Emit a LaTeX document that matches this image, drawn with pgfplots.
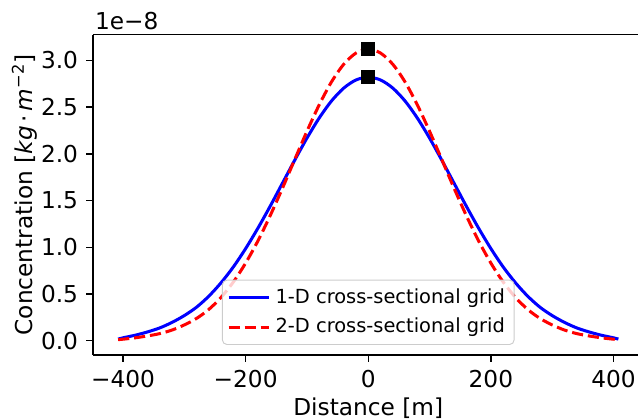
\documentclass[border=0pt]{standalone}
\usepackage{pgfplots}
\pgfplotsset{compat=1.18}
\usepackage{fontspec}
\setmainfont{DejaVu Sans}
\begin{document}
\begin{tikzpicture}
\begin{axis}[
  scale only axis,
  width=234.4pt, height=137.7pt,
  xmin=-449, xmax=440, ymin=-0.15, ymax=3.276,
  axis x line*=box, axis y line*=left,
  axis line style={-, line width=0.6pt, black},
  tick align=outside, tick pos=left,
  major tick length=2.9pt,
  tick style={line width=0.6pt, black},
  xtick={-400,-200,0,200,400},
  xticklabels={−400,−200,0,200,400},
  ytick={0,0.5,1,1.5,2,2.5,3},
  /pgf/number format/assume math mode=true,
  yticklabel style={/pgf/number format/.cd, fixed, fixed zerofill, precision=1},
  xlabel={Distance [m]},
  ylabel={Concentration [\textit{kg}\,·\,\textit{m}\textsuperscript{−2}]},
  every axis x label/.style={at={([yshift=-23pt]axis cs:0,-0.15)}, anchor=center},
  every axis y label/.style={at={([xshift=-29.5pt]rel axis cs:0,0.5)}, anchor=center, rotate=90},
  legend style={at={(axis cs:0,-0.045)}, anchor=south,
    font=\fontsize{8.35pt}{10pt}\selectfont,
    draw=black!20, rounded corners=2pt, fill=white, fill opacity=0.8, text opacity=1,
    inner xsep=2pt, inner ysep=1.5pt, row sep=1pt},
  legend cell align=left,
  legend image code/.code={\draw[#1] (0pt,0pt) -- (17.6pt,0pt);},
]
\addplot[blue, line width=1.3pt, smooth] coordinates {
(-408,0.018) (-400,0.032) (-380,0.060) (-360,0.095) (-340,0.138) (-320,0.197)
(-300,0.270) (-280,0.360) (-260,0.478) (-240,0.622) (-220,0.791) (-200,0.987)
(-180,1.205) (-160,1.440) (-140,1.686) (-120,1.932) (-100,2.169) (-80,2.384)
(-60,2.566) (-40,2.704) (-20,2.791) (0,2.820)
(20,2.791) (40,2.704) (60,2.566) (80,2.384) (100,2.169) (120,1.932)
(140,1.686) (160,1.440) (180,1.205) (200,0.987) (220,0.791) (240,0.622)
(260,0.478) (280,0.360) (300,0.270) (320,0.197) (340,0.138) (360,0.095)
(380,0.060) (400,0.032) (408,0.018)
};
\addlegendentry{1-D cross-sectional grid}
\addplot[red, line width=1.3pt, dash pattern=on 4.8pt off 2.1pt, smooth] coordinates {
(-408,0.012) (-400,0.017) (-380,0.032) (-360,0.052) (-340,0.077) (-320,0.115)
(-300,0.170) (-280,0.240) (-260,0.336) (-240,0.465) (-220,0.630) (-200,0.832)
(-180,1.069) (-160,1.339) (-140,1.632) (-120,1.939) (-100,2.242) (-80,2.525)
(-60,2.770) (-40,2.959) (-20,3.079) (0,3.120)
(20,3.079) (40,2.959) (60,2.770) (80,2.525) (100,2.242) (120,1.939)
(140,1.632) (160,1.339) (180,1.069) (200,0.832) (220,0.630) (240,0.465)
(260,0.336) (280,0.240) (300,0.170) (320,0.115) (340,0.077) (360,0.052)
(380,0.032) (400,0.017) (408,0.012)
};
\addlegendentry{2-D cross-sectional grid}
\addplot[only marks, mark=square*, mark size=2.8pt, black, forget plot] coordinates {(0,2.820) (0,3.120)};
\coordinate (bl) at (rel axis cs:0,0);
\coordinate (tl) at (rel axis cs:0,1);
\coordinate (tr) at (rel axis cs:1,1);
\end{axis}
\node[anchor=base west, inner sep=0pt, xshift=0.7pt, yshift=2pt] at (tl) {1e−8};
\pgfresetboundingbox
\path ([xshift=-40pt,yshift=-27.5pt]bl) rectangle ([yshift=14.9pt]tr);
\end{tikzpicture}
\end{document}
